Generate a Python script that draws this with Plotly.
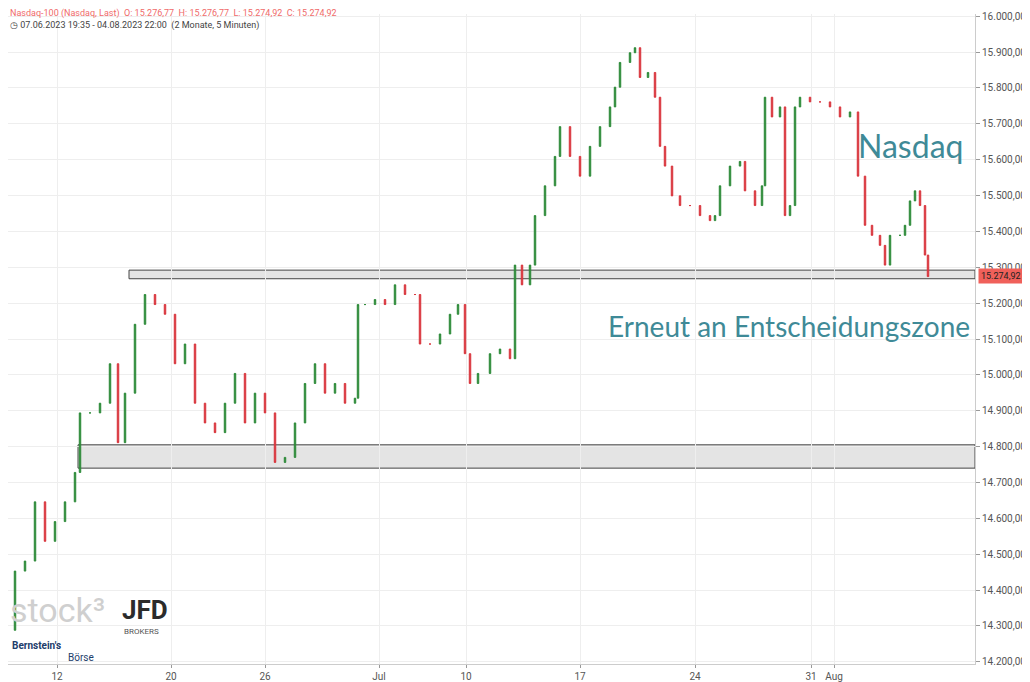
import plotly.graph_objects as go

# session time (one trading day ~22.6 units, starting 07.06.2023) and closes
t = [0, 5, 15, 25, 35, 45, 55, 65, 75, 80, 90, 100, 110, 118, 125, 135, 145, 155, 165, 175,
     185, 195, 205, 215, 225, 235, 245, 255, 265, 275, 285, 295, 305, 315, 325, 335, 345, 355,
     358, 365, 375, 385, 395, 405, 415, 420, 430, 440, 450, 458, 465, 470, 478, 490, 500, 510,
     515, 522, 530, 535, 545, 555, 560, 570, 580, 590, 600, 610, 615, 620, 630, 635, 640, 648,
     655, 660, 665, 672, 680, 690, 700, 710, 715, 720, 730, 740, 745, 755, 762, 765, 772, 780,
     785, 790, 795, 800, 810, 820, 830, 840, 850, 858, 865, 872, 880, 885, 890, 900, 905, 910,
     915, 920, 925, 928]
close = [14371, 14288, 14453, 14481, 14646, 14536, 14591, 14646, 14728, 14894, 14894, 14921,
         15031, 14811, 14949, 15141, 15224, 15196, 15169, 15031, 15086, 14921, 14866, 14839,
         14921, 15004, 14866, 14949, 14894, 14756, 14770, 14866, 14976, 15031, 14949, 14976,
         14921, 14935, 15196, 15196, 15210, 15196, 15251, 15224, 15224, 15086, 15086, 15114,
         15169, 15196, 15059, 14976, 15004, 15059, 15072, 15045, 15306, 15251, 15306, 15444,
         15527, 15609, 15692, 15609, 15554, 15637, 15692, 15747, 15802, 15871, 15898, 15912,
         15829, 15843, 15774, 15637, 15582, 15499, 15472, 15472, 15444, 15430, 15444, 15527,
         15582, 15595, 15513, 15472, 15527, 15774, 15719, 15747, 15444, 15472, 15747, 15774,
         15761, 15761, 15747, 15719, 15733, 15554, 15417, 15389, 15361, 15306, 15389, 15389,
         15417, 15485, 15513, 15472, 15334, 15274]
open_ = [14400] + close[:-1]
high = [max(o, c) for o, c in zip(open_, close)]
low = [min(o, c) for o, c in zip(open_, close)]

tick_pos = [57, 171, 265, 379, 466, 580, 695, 811, 834]
tick_text = ["12", "20", "26", "Jul", "10", "17", "24", "31", "Aug"]
zones = [(129, 15268, 15292), (78, 14740, 14805)]
last_price = 15274.92

fig = go.Figure(go.Candlestick(
    x=t, open=open_, high=high, low=low, close=close,
    increasing=dict(line=dict(color="#2e8b3a", width=1), fillcolor="#2e8b3a"),
    decreasing=dict(line=dict(color="#d9363e", width=1), fillcolor="#d9363e"),
    whiskerwidth=0, showlegend=False,
))

for x0, y0, y1 in zones:
    fig.add_shape(type="rect", x0=x0, x1=975, xref="x", yref="y", y0=y0, y1=y1,
                  fillcolor="#e4e4e4", line=dict(color="#444", width=1), layer="below")

fig.add_annotation(x=1.003, xref="paper", y=last_price, yref="y", text="15.274,92", showarrow=False,
                   xanchor="left", bgcolor="#f0605a", font=dict(size=9, color="#222"), borderpad=2)
fig.add_annotation(x=965, xref="x", y=15640, text="Nasdaq", showarrow=False, xanchor="right",
                   font=dict(family="Lato", size=32, color="#3f8a97"))
fig.add_annotation(x=972, xref="x", y=15135, text="Erneut an Entscheidungszone", showarrow=False,
                   xanchor="right", font=dict(family="Lato", size=28, color="#3f8a97"))
fig.add_annotation(x=0.0, xref="paper", y=1.012, yref="paper", yanchor="top", xanchor="left",
                   showarrow=False, align="left",
                   text="<span style='color:#f06a6a'>Nasdaq-100 (Nasdaq, Last)  O: 15.276,77  H: 15.276,77  L: 15.274,92  C: 15.274,92</span>"
                        "<br><span style='color:#444'>◷ 07.06.2023 19:35 - 04.08.2023 22:00  (2 Monate, 5 Minuten)</span>",
                   font=dict(size=9))
fig.add_annotation(x=8, xref="x", y=14345, text="stock³", showarrow=False, xanchor="left",
                   font=dict(size=34, color="#cfcfcf"))
fig.add_annotation(x=120, xref="x", y=14345, text="<b>JFD</b>", showarrow=False, xanchor="left",
                   font=dict(size=26, color="#2b2b2b"))
fig.add_annotation(x=122, xref="x", y=14285, text="BROKERS", showarrow=False, xanchor="left",
                   font=dict(size=8, color="#555"))
fig.add_annotation(x=10, xref="x", y=14245, text="<b>Bernstein's</b>", showarrow=False,
                   xanchor="left", font=dict(size=10, color="#1d3d6b"))
fig.add_annotation(x=66, xref="x", y=14212, text="Börse", showarrow=False, xanchor="left",
                   font=dict(size=10, color="#1d3d6b"))

fig.update_layout(
    width=1022, height=674, margin=dict(l=0, r=55, t=6, b=18),
    plot_bgcolor="white", paper_bgcolor="white", separators=",.",
    font=dict(family="Roboto", color="#555"),
    xaxis=dict(range=[8, 975], tickvals=tick_pos, ticktext=tick_text, showgrid=True,
               gridcolor="#eeeeee", rangeslider=dict(visible=False), ticks="outside",
               ticklen=3, tickcolor="#999", tickfont=dict(size=10), showline=True,
               linecolor="#ccc"),
    yaxis=dict(side="right", range=[14194, 16006], dtick=100, tickformat=",.2f",
               showgrid=True, gridcolor="#eeeeee", ticks="outside", ticklen=4,
               tickcolor="#999", tickfont=dict(size=10), showline=True, linecolor="#ccc"),
)

fig.write_html("out.html")
